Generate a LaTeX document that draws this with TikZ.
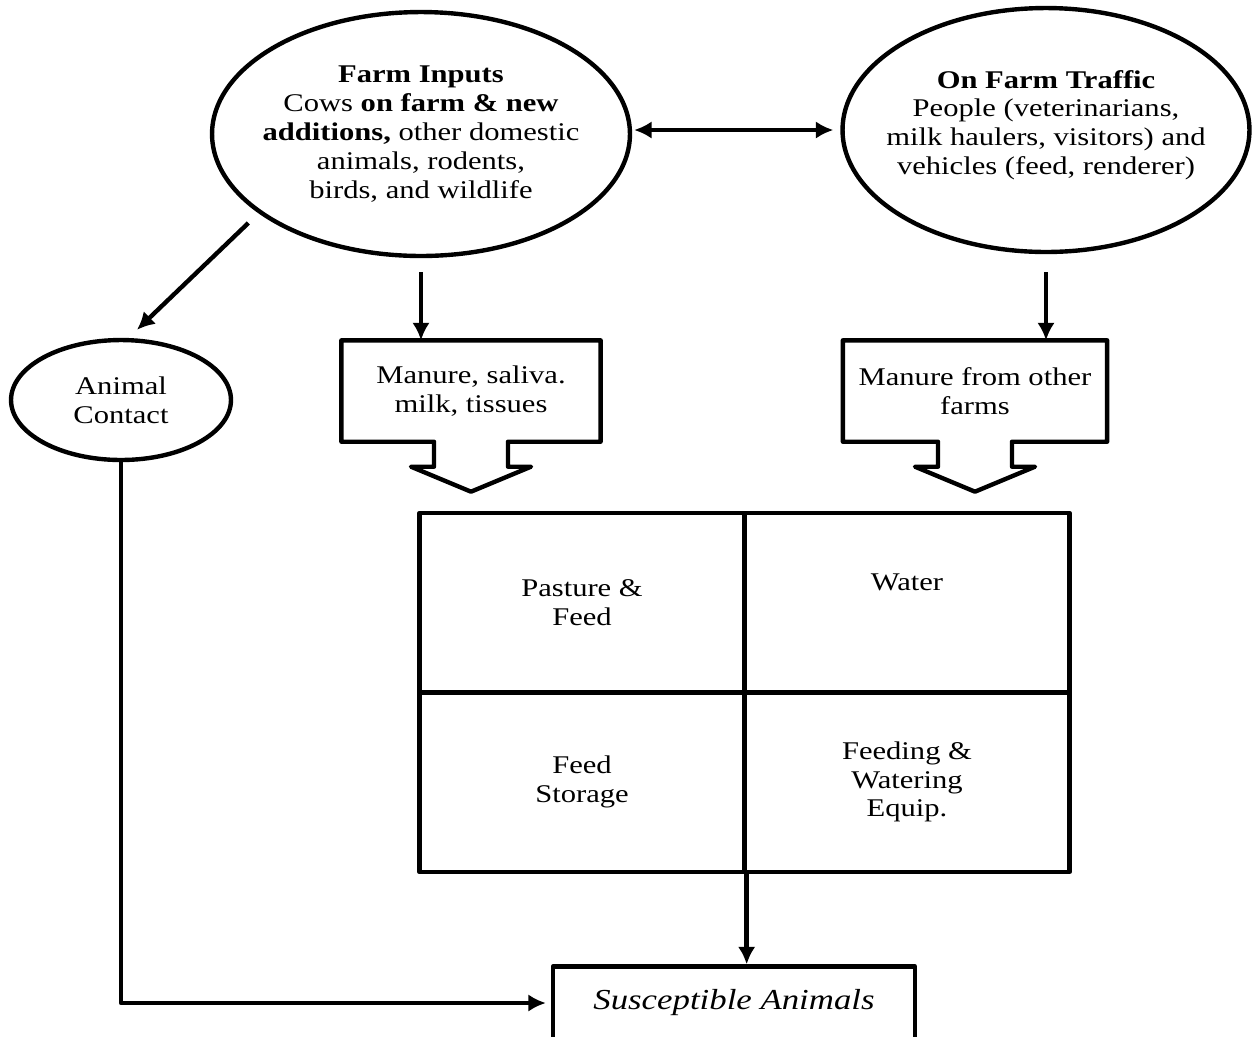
\documentclass[tikz,border=0pt]{standalone}
\usepackage{fontspec}
\setmainfont{Liberation Serif}[FakeStretch=1.2]
\usepackage{tikz}
\usetikzlibrary{shapes.geometric, arrows.meta, calc}
\tikzset{
every picture/.style={line width=2.5pt, line join=round,
                       >={Latex[length=10pt,width=10pt]}},
%%%%%%%%%%  Node styles
bubble/.style={ellipse, draw, inner sep=0pt},
blurb/.style={align=center, font=\fontsize{14.5}{16.4}\selectfont},
calloutbox/.style={rectangle, inner sep=0pt, align=center,
                   font=\fontsize{14.5}{16.4}\selectfont},
cell/.style={rectangle, draw, inner sep=0pt, align=center,
             minimum width=6.5cm, minimum height=3.6cm,
             font=\fontsize{14.5}{16.4}\selectfont},
target/.style={rectangle, draw, inner sep=0pt,
               minimum width=7.24cm, minimum height=1.46cm,
               font=\fontsize{16.5}{18}\selectfont\itshape},
%%%% connectors
arr/.style={->},
arr2/.style={<->}
}
%% outline of a box with a fat arrow hanging under it
\newcommand{\calloutline}[1]{%
\draw (#1.north west) -- (#1.north east) -- (#1.south east)
	-- ($(#1.south)+(37,0)$) -- ++(0,25) -- ++(23,0)
	-- ($(#1.south)+(0,50)$)
	-- ($(#1.south)+(-60,25)$) -- ++(23,0) -- ++(0,-25)
	-- (#1.south west) -- cycle;}

\begin{document}
\begin{tikzpicture}[x=0.02cm, y=-0.02cm]
\useasboundingbox (0,0) rectangle (1252,1036);
%%top bubbles
\node[bubble, minimum width=8.36cm, minimum height=4.88cm,
	label={[blurb]center:\textbf{Farm Inputs}\\Cows \textbf{on farm \& new}\\\textbf{additions,} other domestic\\animals, rodents,\\birds, and wildlife}]
	(inputs) at (421,134) {};
\node[bubble, minimum width=8.14cm, minimum height=4.88cm,
	label={[blurb, yshift=0.1cm]center:\textbf{On Farm Traffic}\\People (veterinarians,\\milk haulers, visitors) and\\vehicles (feed, renderer)}]
	(traffic) at (1046,130) {};
\node[bubble, minimum width=4.4cm, minimum height=2.4cm,
	label={[blurb]center:Animal\\Contact}]
	(contact) at (121,400) {};
%%callout boxes
\node[calloutbox, minimum width=5.1cm, minimum height=1.94cm]
	(manure) at (471,391) {Manure, saliva.\\milk, tissues};
\calloutline{manure}
\node[calloutbox, minimum width=5.2cm, minimum height=1.94cm]
	(othermanure) at (975,391) {Manure from other\\farms};
\calloutline{othermanure}
%%grid of exposure points
\node[cell] (pasture) at (582,603) {Pasture \&\\Feed};
\node[cell, label={[blurb, yshift=0.42cm]center:Water}] (water) at (907,603) {};
\node[cell] (storage) at (582,782) {Feed\\Storage};
\node[cell] (equip) at (907,782) {Feeding \&\\Watering\\Equip.};
%%bottom box
\node[target] (suscept) at (734,1003) {Susceptible Animals};
%%arrows
\draw[arr2, shorten >=0.14cm, shorten <=0.04cm] (inputs.east |- traffic.west) -- (traffic.west);
\draw[arr, shorten <=0.28cm] (inputs.206) -- ([shift={(16,-8)}]contact.north);
\draw[arr, shorten <=0.28cm] (inputs.south) -- (inputs.south |- manure.north);
\draw[arr, shorten <=0.36cm] (traffic.south) -- (traffic.south |- othermanure.north);
\draw[arr] (storage.south east) -- (storage.south east |- suscept.north);
\draw[arr, shorten >=0.1cm] (contact.south) |- (suscept.west);
\end{tikzpicture}
\end{document}
